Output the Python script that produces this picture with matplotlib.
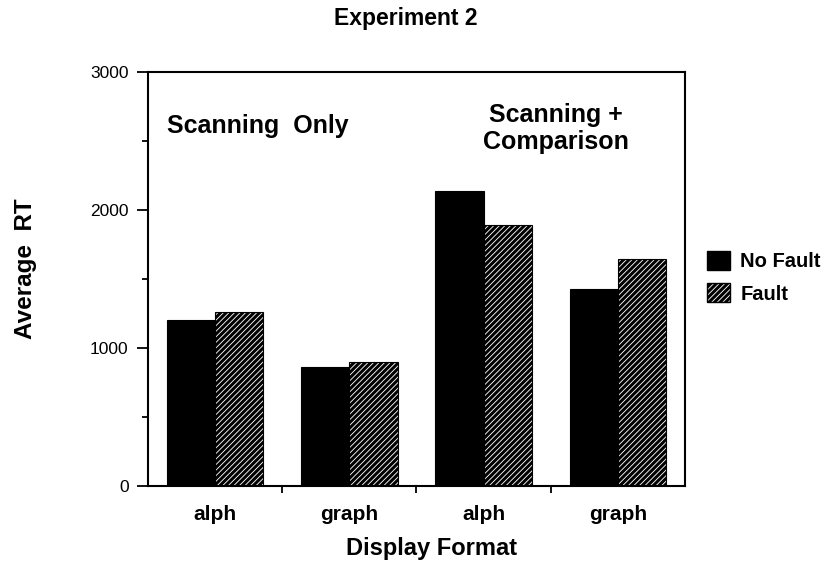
import numpy as np
import matplotlib.pyplot as plt
from matplotlib.patches import Patch

plt.rcParams['font.family'] = ['Liberation Sans', 'DejaVu Sans']
plt.rcParams['hatch.linewidth'] = 2.2

formats = ["alph", "graph", "alph", "graph"]
no_fault = [1205, 860, 2140, 1430]
fault = [1260, 900, 1890, 1645]

fig = plt.figure(figsize=(8.24, 5.64), dpi=100)
ax = fig.add_axes([0.1796, 0.1383, 0.6517, 0.734])

x = np.arange(len(formats))
w = 0.36
ax.bar(x - w / 2, no_fault, w, color="black", edgecolor="black", linewidth=0.8)
ax.bar(x + w / 2, fault, w, color="white", edgecolor="black", hatch="//////", linewidth=0.8)

ax.set_xlim(-0.5, 3.5)
ax.set_ylim(0, 3000)
ax.set_yticks([0, 1000, 2000, 3000])
ax.set_yticks([500, 1500, 2500], minor=True)
ax.tick_params(axis="y", which="major", direction="out", length=8, width=1.3,
               labelsize=12.5, pad=6)
ax.tick_params(axis="y", which="minor", direction="out", length=4.5, width=1.3)

# tick marks between the groups, labels drawn as text
ax.set_xticks([0.5, 1.5, 2.5])
ax.set_xticklabels([])
ax.tick_params(axis="x", direction="out", length=5, width=1.3)
for xi, lab in zip(x, formats):
    ax.text(xi, -203, lab, ha="center", va="center", fontsize=15, fontweight="bold")

for s in ax.spines.values():
    s.set_linewidth(1.5)

ax.text(-0.36, 2558, "Scanning  Only", ha="left", va="baseline", fontsize=18, fontweight="bold")
ax.text(2.54, 2590, "Scanning +\nComparison", ha="center", va="center", fontsize=18,
        fontweight="bold", linespacing=1.16)

fig.text(0.492, 0.968, "Experiment 2", ha="center", va="center", fontsize=16.5, fontweight="bold")
fig.text(0.524, 0.027, "Display Format", ha="center", va="center", fontsize=17, fontweight="bold")
fig.text(0.031, 0.523, "Average  RT", ha="center", va="center", rotation=90, fontsize=17.5,
         fontweight="bold")

handles = [Patch(facecolor="black", edgecolor="black"),
           Patch(facecolor="white", edgecolor="black", hatch="//////")]
fig.legend(handles, ["No Fault", "Fault"], loc="upper left", bbox_to_anchor=(707 / 824, 1 - 251 / 564),
           frameon=False, prop={"weight": "bold", "size": 14.5}, handlelength=1.15,
           handleheight=1.05, handletextpad=0.5, labelspacing=0.6, borderpad=0,
           borderaxespad=0)

fig.savefig("out.png", dpi=100)
